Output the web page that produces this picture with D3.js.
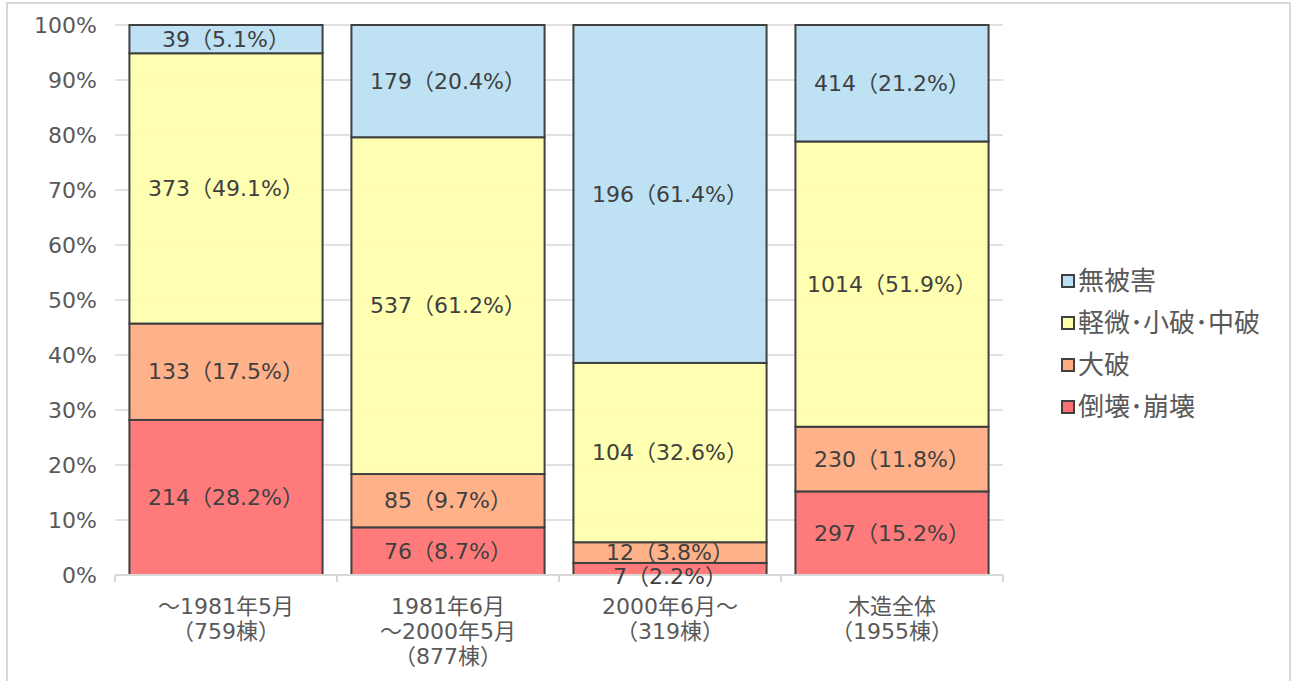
<!DOCTYPE html>
<html>
<head>
<meta charset="utf-8">
<script src="https://cdn.jsdelivr.net/npm/d3@7"></script>
<style>
	body { margin: 0; background: white; }
	text { font-family: "DejaVu Sans", "Noto Sans CJK JP", sans-serif; }
</style>
</head>
<body>
<div id="chart"></div>
<script>
let categories = [
	["～1981年5月", "（759棟）"],
	["1981年6月", "～2000年5月", "（877棟）"],
	["2000年6月～", "（319棟）"],
	["木造全体", "（1955棟）"]
];
let seriesNames = ["倒壊･崩壊", "大破", "軽微･小破･中破", "無被害"];
let collapsed = [214, 76, 7, 297];
let major = [133, 85, 12, 230];
let minor = [373, 537, 104, 1014];
let undamaged = [39, 179, 196, 414];
let yTicks = [0, 0.1, 0.2, 0.3, 0.4, 0.5, 0.6, 0.7, 0.8, 0.9, 1];
let colors = ["#ff7070", "#ffaa80", "#ffffaa", "#b9e0f3"];

let width = 1293;
let height = 681;
let margin = {top: 25, right: 290, bottom: 106, left: 115};

let svg = d3.select("#chart")
			.append("svg")
			.attr("width", width)
			.attr("height", height);

svg.append("rect")
	.attr("x", 7)
	.attr("y", 3)
	.attr("width", 1283)
	.attr("height", 690)
	.attr("fill", "white")
	.attr("stroke", "#d9d9d9")
	.attr("stroke-width", 2);

let rows = categories.map((c, i) => ({
	key: c.join(""),
	lines: c,
	"倒壊･崩壊": collapsed[i],
	"大破": major[i],
	"軽微･小破･中破": minor[i],
	"無被害": undamaged[i],
	total: collapsed[i] + major[i] + minor[i] + undamaged[i]
}));

let stack = d3.stack()
				.keys(seriesNames)
				.offset(d3.stackOffsetExpand);
let layers = stack(rows);

let xScale = d3.scaleBand()
				.domain(rows.map(d => d.key))
				.range([margin.left, width - margin.right])
				.paddingInner(0.13)
				.paddingOuter(0.065);

let yScale = d3.scaleLinear()
				.domain([0, 1])
				.range([height - margin.bottom, margin.top]);

// gridlines
svg.append("g")
	.selectAll("line")
	.data(yTicks.slice(1))
	.enter()
	.append("line")
	.attr("x1", margin.left)
	.attr("x2", width - margin.right)
	.attr("y1", d => yScale(d))
	.attr("y2", d => yScale(d))
	.attr("stroke", "#d9d9d9")
	.attr("stroke-width", 1.5);

// y labels
svg.append("g")
	.selectAll("text")
	.data(yTicks)
	.enter()
	.append("text")
	.attr("x", margin.left - 18)
	.attr("y", d => yScale(d))
	.attr("dy", "0.35em")
	.attr("text-anchor", "end")
	.attr("font-size", 22)
	.attr("fill", "#595959")
	.text(d => d3.format(".0%")(d));

// bars
let groups = svg.append("g")
				.selectAll("g")
				.data(layers)
				.enter()
				.append("g")
				.attr("fill", (d, i) => colors[i]);

groups.selectAll("rect")
	.data(d => d)
	.enter()
	.append("rect")
	.attr("x", d => xScale(d.data.key))
	.attr("y", d => yScale(d[1]))
	.attr("width", xScale.bandwidth())
	.attr("height", d => yScale(d[0]) - yScale(d[1]))
	.attr("fill-opacity", 0.92)
	.attr("stroke", "#404040")
	.attr("stroke-width", 2);

// x axis
let axisY = yScale(0);
svg.append("line")
	.attr("x1", margin.left)
	.attr("x2", width - margin.right)
	.attr("y1", axisY)
	.attr("y2", axisY)
	.attr("stroke", "#d9d9d9")
	.attr("stroke-width", 2);

let tickXs = rows.map(d => xScale(d.key) - xScale.step() * xScale.paddingInner() / 2)
	.concat([width - margin.right]);
tickXs[0] = margin.left;
svg.append("g")
	.selectAll("line")
	.data(tickXs)
	.enter()
	.append("line")
	.attr("x1", d => d)
	.attr("x2", d => d)
	.attr("y1", axisY)
	.attr("y2", axisY + 7)
	.attr("stroke", "#d9d9d9")
	.attr("stroke-width", 2);

// data labels: centred in each segment, pushed down when too close to the one above
let labels = [];
rows.forEach((r, ci) => {
	let prev = -Infinity;
	for (let li = layers.length - 1; li >= 0; li--) {
		let p = layers[li][ci];
		let cy = (yScale(p[0]) + yScale(p[1])) / 2;
		if (cy < prev + 24) cy = prev + 24;
		prev = cy;
		let v = r[layers[li].key];
		labels.push({
			x: xScale(r.key) + xScale.bandwidth() / 2,
			y: cy,
			text: v + "（" + d3.format(".1f")(v / r.total * 100) + "%）"
		});
	}
});

svg.append("g")
	.selectAll("text")
	.data(labels)
	.enter()
	.append("text")
	.attr("x", d => d.x)
	.attr("y", d => d.y)
	.attr("dy", "0.35em")
	.attr("text-anchor", "middle")
	.attr("font-size", 22)
	.attr("fill", "#404040")
	.text(d => d.text);

// category labels
let catLabels = svg.append("g")
	.selectAll("text")
	.data(rows)
	.enter()
	.append("text")
	.attr("x", d => xScale(d.key) + xScale.bandwidth() / 2)
	.attr("y", axisY + 39)
	.attr("text-anchor", "middle")
	.attr("font-size", 22)
	.attr("fill", "#595959");

catLabels.selectAll("tspan")
	.data(d => d.lines)
	.enter()
	.append("tspan")
	.attr("x", function() { return d3.select(this.parentNode).attr("x"); })
	.attr("dy", (d, i) => i === 0 ? 0 : 25)
	.text(d => d);

// legend
let legend = svg.append("g")
				.selectAll("g")
				.data(seriesNames.slice().reverse())
				.enter()
				.append("g")
				.attr("transform", (d, i) => "translate(1062," + (281 + i * 42) + ")");

legend.append("rect")
	.attr("x", 0)
	.attr("y", -6)
	.attr("width", 12)
	.attr("height", 12)
	.attr("fill", d => colors[seriesNames.indexOf(d)])
	.attr("stroke", "#404040")
	.attr("stroke-width", 2);

legend.append("text")
	.attr("x", 16)
	.attr("dy", "0.35em")
	.attr("font-size", 26)
	.attr("fill", "#595959")
	.attr("font-family", "Noto Sans CJK JP")
	.text(d => d);
</script>
</body>
</html>
